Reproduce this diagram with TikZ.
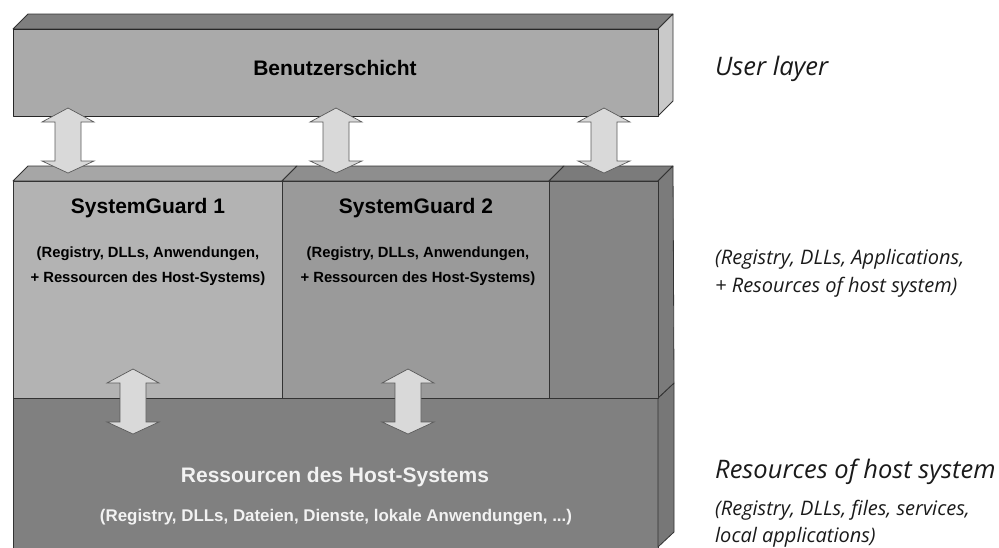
\documentclass[tikz,border=0pt]{standalone}
\usepackage{fontspec}
\setmainfont{Liberation Sans}
\newfontfamily\notefont{Open Sans}
\usetikzlibrary{calc}

\definecolor{edge}{HTML}{333333}
\definecolor{topfront}{HTML}{AAAAAA}
\definecolor{toptop}{HTML}{7F7F7F}
\definecolor{topside}{HTML}{C9C9C9}
\definecolor{sgafront}{HTML}{B3B3B3}
\definecolor{sgatop}{HTML}{A6A6A6}
\definecolor{sgbfront}{HTML}{9A9A9A}
\definecolor{sgbtop}{HTML}{8E8E8E}
\definecolor{sgcfront}{HTML}{858585}
\definecolor{sgctop}{HTML}{7B7B7B}
\definecolor{hostfront}{HTML}{808080}
\definecolor{hostside}{HTML}{777777}
\definecolor{arrowfill}{HTML}{D9D9D9}
\definecolor{arrowedge}{HTML}{5A5A5A}
\definecolor{hosttext}{HTML}{F2F2F2}
\definecolor{notetext}{HTML}{1A1A1A}

% vertical double block arrow between two named points
\newcommand\dblarrow[2]{%
  \path[blk] let \p1=(#1), \p2=(#2) in
    (\p1) -- (\x1-26pt,\y1-14pt) -- (\x1-13pt,\y1-14pt)
    -- (\x1-13pt,\y2+12pt) -- (\x1-26pt,\y2+12pt) -- (\p2)
    -- (\x1+26pt,\y2+12pt) -- (\x1+13pt,\y2+12pt)
    -- (\x1+13pt,\y1-14pt) -- (\x1+26pt,\y1-14pt) -- cycle;}

\begin{document}
\begin{tikzpicture}[x=1pt,y=-1pt,
  face/.style={draw=edge,line width=0.8pt,line join=round},
  blk/.style={draw=arrowedge,fill=arrowfill,line width=0.7pt,line join=miter},
  head/.style={font=\bfseries\fontsize{21}{25}\selectfont,inner sep=0pt},
  sub/.style={font=\bfseries\fontsize{14.8}{25}\selectfont,align=center,inner sep=0pt},
  note/.style={font=\notefont\itshape\fontsize{20}{24}\selectfont,text=notetext,anchor=base west,inner sep=0pt},
  bignote/.style={note,font=\notefont\itshape\fontsize{25.5}{30}\selectfont}]
\useasboundingbox (0,0) rectangle (999,547);

% host resources layer
\path[face,fill=hostfront] (13,398) rectangle (658,549);
\path[face,fill=hostside] (658,398) -- (674,383) -- (674,532) -- (658,547) -- cycle;

% SystemGuard layer: top faces, side and fronts
\path[face,fill=sgatop] (13,181) -- (28,166) -- (297,166) -- (282,181) -- cycle;
\path[face,fill=sgbtop] (282,181) -- (297,166) -- (564,166) -- (549,181) -- cycle;
\path[face,fill=sgctop] (549,181) -- (564,166) -- (673,166) -- (658,181) -- cycle;
\path[face,fill=sgctop] (658,181) -- (673,166) -- (674,383) -- (658,398) -- cycle;
\path[face,fill=sgafront] (13,181) rectangle (282,398);
\path[face,fill=sgbfront] (282,181) rectangle (549,398);
\path[face,fill=sgcfront] (549,181) rectangle (658,398);

% user layer block
\path[face,fill=toptop] (13,29) -- (28,14) -- (673,14) -- (658,29) -- cycle;
\path[face,fill=topside] (658,29) -- (673,14) -- (673,101) -- (658,116) -- cycle;
\path[face,draw=black!85,fill=topfront] (13,29) rectangle (658,116);

% labels inside the blocks
\node[head] (user) at (335,68) {Benutzerschicht};
\node[head] (sga) at (148,208) {SystemGuard 1};
\node[sub] (sgasub) at (148,266) {(Registry, DLLs, Anwendungen,\\+ Ressourcen des Host-Systems)};
\node[head] (sgb) at (416,208) {SystemGuard 2};
\node[sub] (sgbsub) at (418,266) {(Registry, DLLs, Anwendungen,\\+ Ressourcen des Host-Systems)};
\node[head,text=hosttext] (host) at (335,477) {Ressourcen des Host-Systems};
\node[sub,text=hosttext,font=\bfseries\fontsize{16.9}{20}\selectfont] (hostsub) at (336,517)
  {(Registry, DLLs, Dateien, Dienste, lokale Anwendungen, ...)};

% arrow end points
\coordinate (ua) at (68,108);  \coordinate (ga) at (68,173);
\coordinate (ub) at (336,108); \coordinate (gb) at (336,173);
\coordinate (uc) at (604,108); \coordinate (gc) at (604,173);
\coordinate (sa) at (133,369); \coordinate (ha) at (133,434);
\coordinate (sb) at (408,369); \coordinate (hb) at (408,434);
\dblarrow{ua}{ga}
\dblarrow{ub}{gb}
\dblarrow{uc}{gc}
\dblarrow{sa}{ha}
\dblarrow{sb}{hb}

% English captions
\node[bignote] (en1) at (715,75) {User layer};
\node[note] (en2) at (715,264.5) {(Registry, DLLs, Applications,};
\node[note] (en3) at (715,292.5) {+ Resources of host system)};
\node[bignote] (en4) at (715,478) {Resources of host system};
\node[note] (en5) at (715,515.5) {(Registry, DLLs, files, services,};
\node[note] (en6) at (715,542.5) {local applications)};
\end{tikzpicture}
\end{document}
